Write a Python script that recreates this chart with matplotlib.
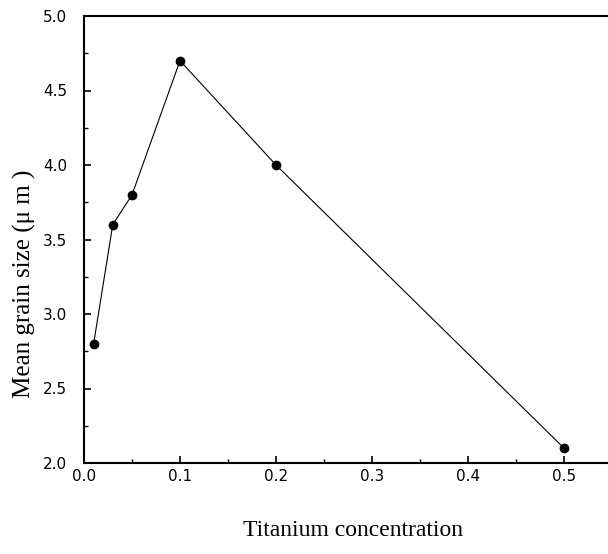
import matplotlib
matplotlib.use('Agg')
from matplotlib import pyplot as plt
from matplotlib.ticker import MultipleLocator

# Titanium concentration vs mean grain size
ti_conc = [0.01, 0.03, 0.05, 0.1, 0.2, 0.5]
grain_size = [2.8, 3.6, 3.8, 4.7, 4.0, 2.1]

x_ticks = [0.0, 0.1, 0.2, 0.3, 0.4, 0.5]
y_ticks = [2.0, 2.5, 3.0, 3.5, 4.0, 4.5, 5.0]

fig = plt.figure(figsize=(6.08, 5.54), dpi=100)
# axes runs off the right edge like in the scan
ax = fig.add_axes([84 / 608, 91 / 554, 528 / 608, 447 / 554])

ax.plot(ti_conc, grain_size, color='black', linewidth=0.8,
        marker='o', markersize=6, markerfacecolor='black', markeredgecolor='black')

ax.set_xlim(0, 0.55)
ax.set_ylim(2.0, 5.0)
ax.set_xticks(x_ticks)
ax.set_yticks(y_ticks)
ax.set_xticklabels(['%.1f' % v for v in x_ticks])
ax.set_yticklabels(['%.1f' % v for v in y_ticks])
ax.xaxis.set_minor_locator(MultipleLocator(0.05))
ax.yaxis.set_minor_locator(MultipleLocator(0.25))

ax.tick_params(which='both', direction='in', top=False, right=False)
ax.tick_params(which='major', length=5, width=1.2, labelsize=11)
ax.tick_params(axis='x', which='major', pad=4)
ax.tick_params(axis='y', which='major', pad=12)
ax.tick_params(which='minor', length=3, width=1.0)
for lab in ax.get_xticklabels() + ax.get_yticklabels():
    lab.set_family('DejaVu Sans')

for side in ['left', 'bottom', 'top']:
    ax.spines[side].set_linewidth(1.5)
ax.spines['right'].set_visible(False)

ax.set_xlabel('Titanium concentration', family='Liberation Serif', fontsize=17)
ax.set_ylabel('Mean grain size (\u03bc m )', family='Liberation Serif', fontsize=18)
ax.xaxis.set_label_coords(0.51, -0.128)
ax.yaxis.set_label_coords(-0.09, 0.40)

fig.savefig('out.png', dpi=100)
